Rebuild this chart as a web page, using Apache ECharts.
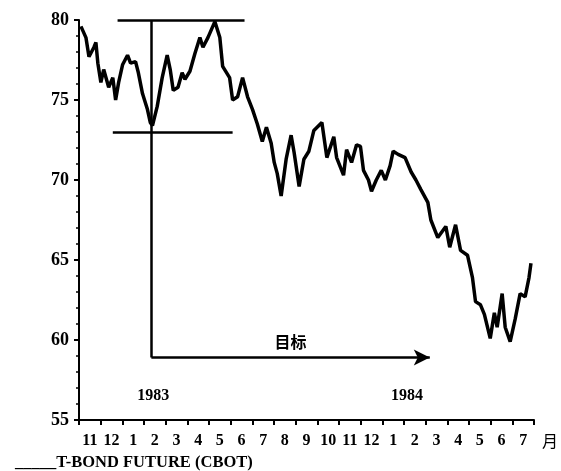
<!DOCTYPE html>
<html>
<head>
<meta charset="utf-8">
<script src="https://cdn.jsdelivr.net/npm/echarts@6/dist/echarts.min.js"></script>
<style>
  html, body { margin: 0; padding: 0; background: #fff; }
  #chart { width: 561px; height: 471px; }
</style>
</head>
<body>
<div id="chart"></div>
<script>
// month labels, Nov 1982 .. Jul 1984
const months = ['11', '12', '1', '2', '3', '4', '5', '6', '7', '8', '9', '10', '11', '12', '1', '2', '3', '4', '5', '6', '7']
const yTicks = [55, 60, 65, 70, 75, 80]

// price path: t = months since 1 Nov 1982
const t = [
  0.09, 0.32, 0.46, 0.69, 0.78, 0.87, 1.01, 1.14, 1.37, 1.56, 1.69, 1.83, 2.01, 2.24, 2.38, 2.61, 2.74, 2.93,
  3.16, 3.29, 3.39, 3.61, 3.84, 4.07, 4.21, 4.35, 4.57, 4.76, 4.89, 5.12, 5.35, 5.58, 5.72, 5.95, 6.27, 6.50,
  6.63, 6.95, 7.09, 7.32, 7.55, 7.78, 8.01, 8.23, 8.46, 8.65, 8.87, 9.01, 9.15, 9.33, 9.56, 9.79, 9.93, 10.16,
  10.38, 10.61, 10.84, 11.21, 11.44, 11.76, 11.89, 12.21, 12.35, 12.58, 12.81, 12.99, 13.13, 13.36, 13.50, 13.72,
  13.95, 14.14, 14.36, 14.50, 14.73, 15.05, 15.33, 15.55, 15.78, 16.10, 16.24, 16.56, 16.93, 17.11, 17.38, 17.61,
  17.93, 18.16, 18.30, 18.53, 18.71, 18.98, 19.17, 19.30, 19.53, 19.67, 19.90, 20.13, 20.36, 20.59, 20.77, 20.86
]
const price = [
  79.6, 78.9, 77.7, 78.3, 78.6, 77.3, 76.1, 76.9, 75.8, 76.4, 75.0, 76.1, 77.2, 77.8, 77.3, 77.4, 76.7, 75.4,
  74.4, 73.6, 73.4, 74.6, 76.4, 77.8, 76.9, 75.6, 75.8, 76.7, 76.3, 76.8, 77.9, 78.9, 78.3, 78.9, 79.9, 78.9,
  77.1, 76.4, 75.0, 75.2, 76.4, 75.2, 74.4, 73.5, 72.4, 73.3, 72.3, 71.1, 70.4, 69.0, 71.3, 72.8, 71.7, 69.6,
  71.3, 71.8, 73.1, 73.6, 71.4, 72.7, 71.4, 70.3, 71.9, 71.1, 72.2, 72.1, 70.6, 70.0, 69.3, 70.0,
  70.6, 70.0, 70.9, 71.8, 71.6, 71.4, 70.5, 70.0, 69.4, 68.6, 67.5, 66.4, 67.1, 65.8, 67.2, 65.6,
  65.3, 63.9, 62.4, 62.2, 61.6, 60.1, 61.7, 60.8, 62.9, 60.8, 59.9, 61.3, 62.9, 62.7, 63.9, 64.8
]

// pattern lines: [t1, y1, t2, y2]
const topLine = [1.78, 80.0, 7.64, 80.0]
const lowLine = [1.56, 73.0, 7.09, 73.0]
const dropLine = [3.34, 80.0, 3.34, 58.9]
const targetArrow = [3.34, 58.9, 16.19, 58.9]
const targetText = '目标'
const yearNames = ['1983', '1984']
const yearPos = [[3.43, 56.5], [15.14, 56.5]]
const seriesName = 'T-BOND FUTURE (CBOT)'

const serif = "'Liberation Serif', 'DejaVu Serif', serif"

function seg (p) {
  return [{ coord: [p[0], p[1]] }, { coord: [p[2], p[3]] }]
}

function genOption () {
  const option = {
    animation: false,
    backgroundColor: '#fff',
    grid: {
      left: 79,
      right: 24,
      top: 20,
      bottom: 51
    },
    legend: {
      left: 5,
      top: 449,
      icon: 'none',
      itemWidth: 0,
      itemHeight: 0,
      formatter: '_____{name}',
      textStyle: { fontFamily: serif, fontWeight: 'bold', fontSize: 16.5, color: '#000' },
      data: [seriesName]
    },
    xAxis: [
      {
        type: 'category',
        data: months,
        boundaryGap: true,
        name: '月',
        nameLocation: 'end',
        nameGap: 8,
        nameTextStyle: {
          fontFamily: "'Noto Sans CJK SC', sans-serif",
          fontSize: 16,
          color: '#000',
          verticalAlign: 'top',
          padding: [13, 0, 0, 0]
        },
        axisLine: { lineStyle: { color: '#000', width: 2 } },
        axisTick: { show: true, length: 5, interval: 0, lineStyle: { color: '#000', width: 2 } },
        axisLabel: { interval: 0, margin: 13, fontFamily: serif, fontWeight: 'bold', fontSize: 16, color: '#000' },
        splitLine: { show: false }
      },
      {
        type: 'value',
        min: 0,
        max: 21,
        show: false
      }
    ],
    yAxis: {
      type: 'value',
      min: yTicks[0],
      max: yTicks[yTicks.length - 1],
      interval: 5,
      axisLine: { show: true, lineStyle: { color: '#000', width: 2 } },
      axisTick: { show: true, length: 5, lineStyle: { color: '#000', width: 2 } },
      minorTick: { show: true, splitNumber: 5, length: 3, lineStyle: { color: '#000', width: 1.5 } },
      axisLabel: { margin: 10, fontFamily: serif, fontWeight: 'bold', fontSize: 18, color: '#000' },
      splitLine: { show: false }
    },
    series: [
      {
        name: seriesName,
        type: 'line',
        xAxisIndex: 1,
        data: t.map((v, i) => [v, price[i]]),
        showSymbol: false,
        symbol: 'none',
        lineStyle: { color: '#000', width: 3.5 },
        itemStyle: { color: '#000' },
        markLine: {
          silent: true,
          symbol: ['none', 'none'],
          lineStyle: { color: '#000', width: 2.5, type: 'solid' },
          label: { show: false },
          data: [
            seg(topLine),
            seg(lowLine),
            seg(dropLine),
            [
              {
                coord: [targetArrow[0], targetArrow[1]],
                symbol: 'none',
                label: {
                  show: true,
                  position: 'middle',
                  formatter: targetText,
                  distance: 8,
                  fontFamily: "'Noto Sans CJK SC', sans-serif",
                  fontWeight: 'bold',
                  fontSize: 16,
                  color: '#000'
                }
              },
              { coord: [targetArrow[2], targetArrow[3]], symbol: 'arrow', symbolSize: [12, 16] }
            ]
          ]
        },
        markPoint: {
          silent: true,
          symbol: 'rect',
          symbolSize: 1,
          itemStyle: { color: 'rgba(0,0,0,0)' },
          label: {
            show: true,
            position: 'inside',
            formatter: '{b}',
            fontFamily: serif,
            fontWeight: 'bold',
            fontSize: 16,
            color: '#000'
          },
          data: yearNames.map((n, i) => ({ name: n, coord: yearPos[i] }))
        }
      }
    ]
  }
  return option
}

const chart = echarts.init(document.getElementById('chart'))
chart.setOption(genOption())
</script>
</body>
</html>
